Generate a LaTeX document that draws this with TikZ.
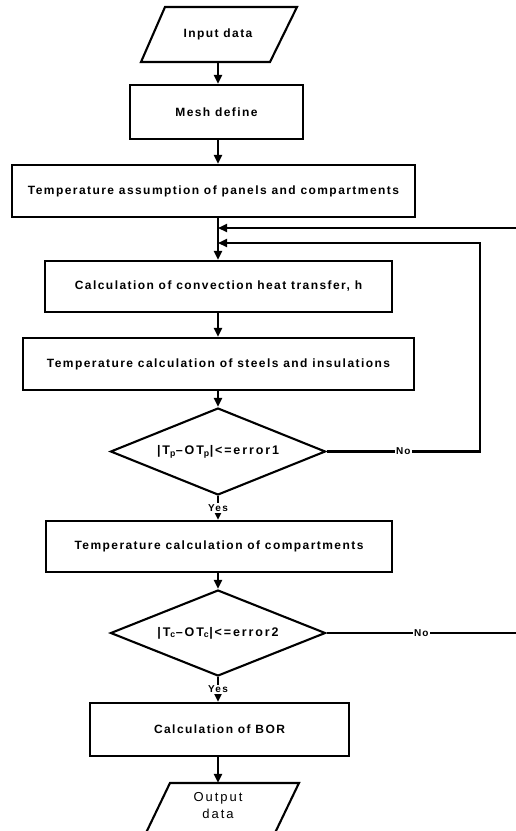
\documentclass[tikz,border=0pt]{standalone}
\usepackage{fontspec}
\setmainfont{Liberation Sans}
\newfontfamily\bxfont{Liberation Sans}[LetterSpace=12]
\newfontfamily\dxfont{Liberation Sans}[LetterSpace=15]
\usetikzlibrary{arrows.meta,shapes.geometric,calc}
\begin{document}
\begin{tikzpicture}[x=1pt,y=-1pt,
  every path/.style={line width=2.1pt},
  txt/.style={font={\bxfont\bfseries\fontsize{12}{14}\selectfont}},
  stepbox/.style={draw, rectangle, inner sep=0pt, txt},
  decision/.style={draw, diamond, inner sep=0pt, font={\dxfont\bfseries\fontsize{12.5}{14}\selectfont}},
  iobox/.style={inner sep=0pt, align=center},
  lbl/.style={fill=white, inner sep=1.5pt, font={\bxfont\bfseries\fontsize{10}{11}\selectfont}},
  arr/.style={-{Triangle[length=9pt,width=8pt]}}
]
\useasboundingbox (0,0) rectangle (516,831);
\coordinate (axis) at (218,0);

% input
\node[iobox, txt, minimum width=120pt, minimum height=55pt] (in) at (218,34.5) {Input data};
\draw ($(in)+(-53,-27.5)$) -- ($(in)+(79,-27.5)$) -- ($(in)+(52,27.5)$) -- ($(in)+(-77,27.5)$) -- cycle;

\node[stepbox, minimum width=173pt, minimum height=54pt] (mesh) at (216.5,112) {Mesh define};
\node[stepbox, minimum width=403pt, minimum height=52pt] (assume) at (213.5,191) {Temperature assumption of panels and compartments};
\node[stepbox, minimum width=347pt, minimum height=51pt] (conv) at (218.5,286.5) {Calculation of convection heat transfer, h};
\node[stepbox, minimum width=391pt, minimum height=52pt] (steel) at (218.5,364) {Temperature calculation of steels and insulations};
\node[decision, minimum width=215pt, minimum height=87pt, aspect=2.47] (d1) at (218,451.5) {|T\textsubscript{p}–OT\textsubscript{p}|<=error1};
\node[stepbox, minimum width=346pt, minimum height=51pt] (comp) at (219,546.5) {Temperature calculation of compartments};
\node[decision, minimum width=215pt, minimum height=86pt, aspect=2.5] (d2) at (218,633) {|T\textsubscript{c}–OT\textsubscript{c}|<=error2};
\node[stepbox, minimum width=259pt, minimum height=53pt] (bor) at (219.5,729.5) {Calculation of BOR};

% output
\node[iobox, font={\dxfont\fontsize{13}{17}\selectfont}, minimum width=120pt, minimum height=44pt] (out) at (218,806) {Output\\data};
\draw ($(out.north)+(-48,0)$) -- ($(out.north)+(81,0)$) -- ($(out.north)+(56,52)$) -- ($(out.north)+(-73,52)$) -- cycle;

% main flow
\draw[arr] (in.south) -- (mesh.north -| in.south);
\draw[arr] (mesh.south -| axis) -- (assume.north -| axis);
\draw[arr] (assume.south -| axis) -- (conv.north -| axis);
\draw[arr] (conv.south -| axis) -- (steel.north -| axis);
\draw[arr] (steel.south -| axis) -- (d1.north);
\draw[arr] (d1.south) -- node[lbl]{Yes} (comp.north -| axis);
\draw[arr] (comp.south -| axis) -- (d2.north);
\draw[arr] (d2.south) -- node[lbl]{Yes} (bor.north -| axis);
\draw[arr] (bor.south -| axis) -- (out.north);

% feedback loops
\coordinate (fb1) at (516,228);
\coordinate (r1) at (480,243);
\coordinate (fb2) at (516,633);
\draw[arr] (fb1) -- (fb1 -| axis);
\draw[arr] (d1.east) -- node[lbl]{No} (d1.east -| r1) -- (r1) -- (r1 -| axis);
\draw (d2.east) -- node[lbl]{No} (fb2);
\end{tikzpicture}
\end{document}
